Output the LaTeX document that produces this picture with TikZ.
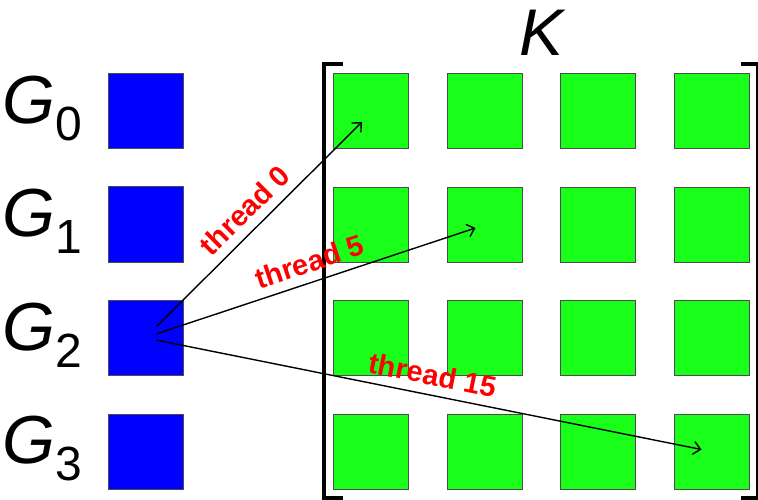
\documentclass[tikz,border=0pt]{standalone}
\usepackage{fontspec}
\setmainfont{Liberation Sans}
\usetikzlibrary{matrix,positioning,arrows.meta}
\definecolor{kgreen}{RGB}{26,255,26}
\tikzstyle{kcell} = [rectangle, minimum size=75pt, inner sep=0pt, draw=black!70, line width=1pt, fill=kgreen]
\tikzstyle{gcell} = [rectangle, minimum size=75pt, inner sep=0pt, draw=black!70, line width=1pt, fill=blue]
\tikzstyle{thread} = [line width=1.4pt, -{Straight Barb[length=7pt,width=13pt]}]
\tikzstyle{tlabel} = [midway, sloped, above=8pt, inner sep=1pt, text=red, font=\fontsize{29}{29}\selectfont\bfseries]
\tikzstyle{bracket} = [line width=4pt]
\newcommand{\kk}[1]{\node [kcell] (#1) {};}
\newcommand{\glabel}[1]{{\fontsize{68}{68}\selectfont\itshape G}\raisebox{-17pt}{\fontsize{48}{48}\selectfont #1}}

\begin{document}
\begin{tikzpicture}[x=1pt, y=-1pt]%
	\useasboundingbox (0,0) rectangle (758,500);
	\matrix (mat) at (333,73) [ampersand replacement=\&, anchor=north west, inner sep=0pt, outer sep=0pt,
	column sep={37.5pt}, row sep={37.5pt}] { \kk{k00} \& \kk{k01} \& \kk{k02} \& \kk{k03} \\
	 \kk{k10} \& \kk{k11} \& \kk{k12} \& \kk{k13} \\
	 \kk{k20} \& \kk{k21} \& \kk{k22} \& \kk{k23} \\
	 \kk{k30} \& \kk{k31} \& \kk{k32} \& \kk{k33} \\
	};
	\node [anchor=base] (klabel) at ([yshift=17pt]mat.north) {\fontsize{66}{66}\selectfont\itshape K};
	% brackets round K
	\draw [bracket] ([xshift=10pt,yshift=9pt]mat.north west) -| ([xshift=-9pt,yshift=-8pt]mat.south west) -- ([xshift=10pt,yshift=-8pt]mat.south west);
	\draw [bracket] ([xshift=-9pt,yshift=9pt]mat.north east) -| ([xshift=8pt,yshift=-8pt]mat.south east) -- ([xshift=-9pt,yshift=-8pt]mat.south east);
	% G column
	\node [gcell, left=150pt of k00] (g0) {};
	\node [gcell, left=150pt of k10] (g1) {};
	\node [gcell, left=150pt of k20] (g2) {};
	\node [gcell, left=150pt of k30] (g3) {};
	\node [left=22pt of g0, yshift=3pt] (l0) {\glabel{0}};
	\node [left=22pt of g1, yshift=3pt] (l1) {\glabel{1}};
	\node [left=22pt of g2, yshift=3pt] (l2) {\glabel{2}};
	\node [left=22pt of g3, yshift=3pt] (l3) {\glabel{3}};
	% threads
	\coordinate (s0) at ([xshift=10.5pt,yshift=11pt]g2.center);
	\coordinate (s1) at ([xshift=10.5pt,yshift=4pt]g2.center);
	\coordinate (s2) at ([xshift=10.5pt,yshift=-2pt]g2.center);
	\coordinate (e0) at ([xshift=-9pt,yshift=-11pt]k00.center);
	\coordinate (e1) at ([xshift=-9pt,yshift=-3.5pt]k11.center);
	\coordinate (e2) at ([xshift=-10pt,yshift=2pt]k33.center);
	\draw [thread] (s0) -- node [tlabel] {thread 0} (e0);
	\draw [thread] (s1) -- node [tlabel] {thread 5} (e1);
	\draw [thread] (s2) -- node [tlabel] {thread 15} (e2);
\end{tikzpicture}
\end{document}
